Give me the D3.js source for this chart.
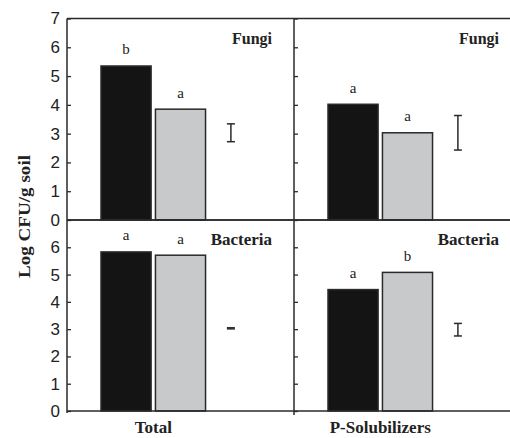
<!DOCTYPE html>
<html>
<head>
<meta charset="utf-8">
<script src="https://cdn.jsdelivr.net/npm/d3@7"></script>
<style>
body { margin: 0; background: #fff; }
svg { display: block; }
</style>
</head>
<body>
<div id="chart"></div>
<script>
// groups along x, organisms as stacked panels
const groups = ['Total', 'P-Solubilizers'];
const organisms = ['Fungi', 'Bacteria'];

// Log CFU/g soil, [black bar, gray bar] for each group
const fungiVals = [[5.35, 3.85], [4.02, 3.03]];
const bacteriaVals = [[5.83, 5.71], [4.45, 5.08]];

// significance letters
const fungiLetters = [['b', 'a'], ['a', 'a']];
const bacteriaLetters = [['a', 'a'], ['a', 'b']];

// error bar (centre, half length) drawn next to each pair
const fungiErr = [[3.03, 0.31], [3.03, 0.6]];
const bacteriaErr = [[3.03, 0.02], [2.98, 0.23]];

const topTicks = [0, 1, 2, 3, 4, 5, 6, 7];
const bottomTicks = [0, 1, 2, 3, 4, 5, 6];

const width = 510;
const height = 438;
const margin = {top: 18.5, left: 67, right: -11, bottom: 27};

const svg = d3.select('#chart')
  .append('svg')
  .attr('width', width)
  .attr('height', height);

const gx = d3.scaleBand()
  .domain(groups)
  .range([margin.left, width - margin.right]);

const yTop = d3.scaleLinear().domain([0, 7]).range([220, margin.top]);
const yBot = d3.scaleLinear().domain([0, 7]).range([height - margin.bottom, 220]);

// inner scale for black bar, gray bar, error bar
const inner = d3.scaleBand()
  .domain([0, 1, 2])
  .range([34, 34 + 159])
  .paddingInner(0.08);

const ink = '#2a2a2a';
const fills = ['#141414', '#c8c9cb'];

const panels = [
  {name: organisms[0], y: yTop, vals: fungiVals, letters: fungiLetters, err: fungiErr, ticks: topTicks},
  {name: organisms[1], y: yBot, vals: bacteriaVals, letters: bacteriaLetters, err: bacteriaErr, ticks: bottomTicks}
];

panels.forEach(p => {
  groups.forEach((grp, gi) => {
    const x0 = gx(grp);
    const g = svg.append('g').attr('transform', `translate(${x0},0)`);

    g.selectAll('rect')
      .data(p.vals[gi])
      .join('rect')
      .attr('x', (d, i) => inner(i))
      .attr('y', d => p.y(d))
      .attr('width', inner.bandwidth())
      .attr('height', d => p.y(0) - p.y(d))
      .attr('fill', (d, i) => fills[i])
      .attr('stroke', ink)
      .attr('stroke-width', 1.5);

    g.selectAll('text.sig')
      .data(p.vals[gi])
      .join('text')
      .attr('class', 'sig')
      .attr('x', (d, i) => inner(i) + inner.bandwidth() / 2)
      .attr('y', d => p.y(d) - 11.5)
      .attr('text-anchor', 'middle')
      .attr('font-family', 'Liberation Serif, Times New Roman, serif')
      .attr('font-size', 15)
      .attr('fill', '#222')
      .text((d, i) => p.letters[gi][i]);

    const [c, h] = p.err[gi];
    const ex = inner(2) + 21;
    const eb = g.append('g').attr('stroke', ink).attr('stroke-width', 1.5);
    eb.append('line').attr('x1', ex).attr('x2', ex).attr('y1', p.y(c + h)).attr('y2', p.y(c - h));
    eb.append('line').attr('x1', ex - 4).attr('x2', ex + 4).attr('y1', p.y(c + h)).attr('y2', p.y(c + h));
    eb.append('line').attr('x1', ex - 4).attr('x2', ex + 4).attr('y1', p.y(c - h)).attr('y2', p.y(c - h));

    g.append('text')
      .attr('x', 205)
      .attr('y', p.y.range()[1] + 25)
      .attr('text-anchor', 'end')
      .attr('font-family', 'Liberation Serif, Times New Roman, serif')
      .attr('font-weight', 'bold')
      .attr('font-size', p.name === 'Fungi' ? 16 : 17)
      .attr('fill', '#222')
      .text(p.name);

    // y axis: labels only on the left panel, ticks point inward
    const axis = d3.axisLeft(p.y)
      .tickValues(p.ticks)
      .tickSizeInner(-4)
      .tickSizeOuter(0)
      .tickPadding(7)
      .tickFormat(gi === 0 ? d3.format('d') : '');
    const ag = svg.append('g')
      .attr('transform', `translate(${x0},0)`)
      .call(axis);
    ag.select('.domain').remove();
    ag.selectAll('line').attr('stroke', ink).attr('stroke-width', 1.3);
    ag.selectAll('text')
      .attr('font-family', 'Liberation Sans, Arial, sans-serif')
      .attr('font-size', 17)
      .attr('fill', '#222');
  });

  // horizontal baseline and panel top line
  [p.y(0), p.y.range()[1]].forEach(yy => {
    svg.append('line')
      .attr('x1', margin.left).attr('x2', width)
      .attr('y1', yy).attr('y2', yy)
      .attr('stroke', ink).attr('stroke-width', 1.5);
  });
});

// vertical axis lines
svg.append('line')
  .attr('x1', gx(groups[0])).attr('x2', gx(groups[0]))
  .attr('y1', margin.top).attr('y2', yBot(0) + 2)
  .attr('stroke', ink).attr('stroke-width', 1.5);
svg.append('line')
  .attr('x1', gx(groups[1])).attr('x2', gx(groups[1]))
  .attr('y1', margin.top).attr('y2', yBot(0) + 4)
  .attr('stroke', ink).attr('stroke-width', 1.5);

// group labels
svg.selectAll('text.grp')
  .data(groups)
  .join('text')
  .attr('class', 'grp')
  .attr('x', d => gx(d) + inner(0) + (inner(1) + inner.bandwidth() - inner(0)) / 2)
  .attr('y', 433)
  .attr('text-anchor', 'middle')
  .attr('font-family', 'Liberation Serif, Times New Roman, serif')
  .attr('font-weight', 'bold')
  .attr('font-size', 17)
  .attr('fill', '#222')
  .text(d => d);

// y label
svg.append('text')
  .attr('transform', 'translate(30,216.5) rotate(-90)')
  .attr('text-anchor', 'middle')
  .attr('font-family', 'Liberation Serif, Times New Roman, serif')
  .attr('font-weight', 'bold')
  .attr('font-size', 16)
  .attr('textLength', 123)
  .attr('lengthAdjust', 'spacingAndGlyphs')
  .attr('fill', '#222')
  .text('Log CFU/g soil');
</script>
</body>
</html>
